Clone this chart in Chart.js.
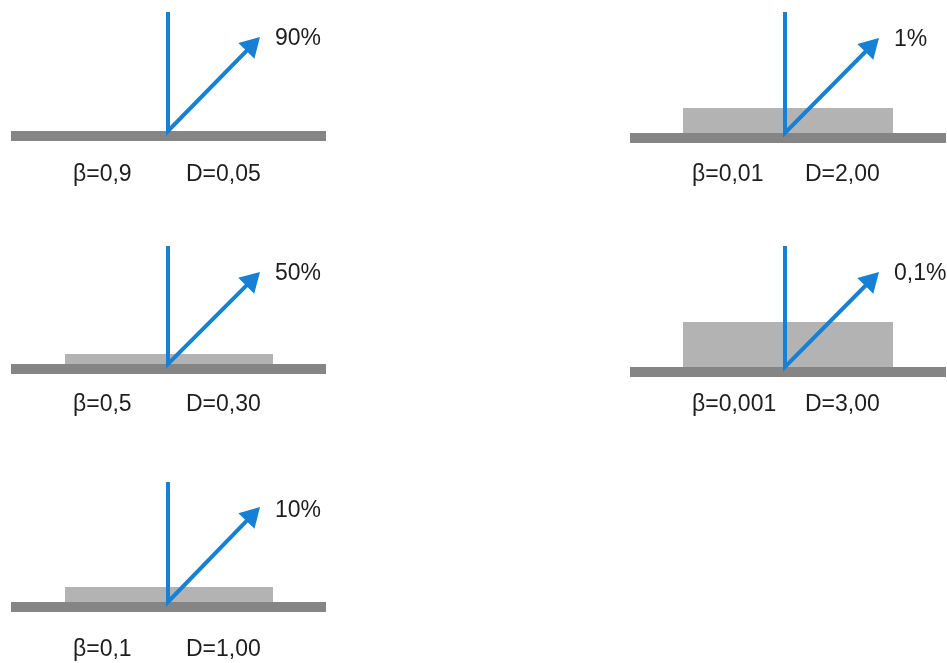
<!DOCTYPE html>
<html>
<head>
<meta charset="utf-8">
<script src="https://cdn.jsdelivr.net/npm/chart.js@4/dist/chart.umd.min.js"></script>
<style>
  html, body { margin: 0; padding: 0; background: #ffffff; }
  canvas { display: block; }
</style>
</head>
<body>
<canvas id="c" width="947" height="663"></canvas>
<script>
// ---------- DATA ----------
const transmission   = [90, 50, 10, 1, 0.1];          // % of the arrow that passes
const betaValues     = [0.9, 0.5, 0.1, 0.01, 0.001];  // β
const dValues        = [0.05, 0.30, 1.00, 2.00, 3.00];// D
const layerThickness = [0, 10, 15, 25, 45];           // drawn thickness of the grey layer (y units)

// ---------- LAYOUT (positions only, in axis units = px) ----------
const columns = [
  { baseX0: 11,  baseX1: 326, stemX: 168, layerX0: 65,  layerX1: 273, tipX: 260, pctX: 275, betaX: 73,  dX: 186 },
  { baseX0: 630, baseX1: 946, stemX: 785, layerX0: 683, layerX1: 893, tipX: 879, pctX: 894, betaX: 692, dX: 805 }
];
const panels = [
  { col: 0, baseTop: 131, stemTop: 12,  tipY: 37,  pctY: 45,  labelY: 181 },
  { col: 0, baseTop: 364, stemTop: 246, tipY: 272, pctY: 280, labelY: 411 },
  { col: 0, baseTop: 602, stemTop: 482, tipY: 507, pctY: 517, labelY: 656 },
  { col: 1, baseTop: 133, stemTop: 12,  tipY: 38,  pctY: 46,  labelY: 181 },
  { col: 1, baseTop: 367, stemTop: 246, tipY: 272, pctY: 280, labelY: 411 }
];
const BASE_H = 10;
const HEAD_R = 13;

// ---------- STYLES ----------
const BLUE = '#1680d4';
const DARK_GREY = '#858585';
const LIGHT_GREY = '#b3b3b3';
const TEXT = '#1e1e1e';
const FONT = '23px "Liberation Sans", Arial, sans-serif';

const fmt = v => String(v).replace('.', ',');

const datasets = [];
const texts = [];
panels.forEach((p, i) => {
  const c = columns[p.col];
  // base substrate
  datasets.push({
    data: [{ x: c.baseX0, y: p.baseTop }, { x: c.baseX1, y: p.baseTop }],
    fill: { value: p.baseTop + BASE_H }, backgroundColor: DARK_GREY,
    borderWidth: 0, pointRadius: 0, order: 3
  });
  // grey layer
  if (layerThickness[i] > 0) {
    datasets.push({
      data: [{ x: c.layerX0, y: p.baseTop - layerThickness[i] }, { x: c.layerX1, y: p.baseTop - layerThickness[i] }],
      fill: { value: p.baseTop }, backgroundColor: LIGHT_GREY,
      borderWidth: 0, pointRadius: 0, order: 4
    });
  }
  // arrow geometry
  const dx = c.tipX - c.stemX, dy = p.tipY - p.baseTop;
  const ang = Math.atan2(dx, -dy);
  const cx = c.tipX - HEAD_R * Math.sin(ang);
  const cy = p.tipY + HEAD_R * Math.cos(ang);
  datasets.push({
    data: [{ x: c.stemX, y: p.stemTop }, { x: c.stemX, y: p.baseTop }, { x: cx, y: cy }],
    fill: false, borderColor: BLUE, borderWidth: 4, pointRadius: 0,
    borderJoinStyle: 'miter', borderCapStyle: 'butt', tension: 0, order: 1
  });
  datasets.push({
    data: [{ x: cx, y: cy }],
    showLine: false, fill: false, pointStyle: 'triangle', pointRadius: HEAD_R,
    pointRotation: ang * 180 / Math.PI, pointBackgroundColor: BLUE, pointBorderWidth: 0,
    pointBorderColor: BLUE, order: 0
  });
  texts.push({ x: c.pctX, y: p.pctY, t: fmt(transmission[i]) + '%' });
  texts.push({ x: c.betaX, y: p.labelY, t: 'β=' + fmt(betaValues[i]) });
  texts.push({ x: c.dX, y: p.labelY, t: 'D=' + dValues[i].toFixed(2).replace('.', ',') });
});

const textPlugin = {
  id: 'labels',
  afterDatasetsDraw(chart) {
    const { ctx, scales: { x, y } } = chart;
    ctx.save();
    ctx.font = FONT;
    ctx.fillStyle = TEXT;
    ctx.textAlign = 'left';
    ctx.textBaseline = 'alphabetic';
    texts.forEach(o => ctx.fillText(o.t, x.getPixelForValue(o.x), y.getPixelForValue(o.y)));
    ctx.restore();
  }
};

new Chart(document.getElementById('c'), {
  type: 'line',
  data: { datasets },
  options: {
    responsive: false,
    animation: false,
    devicePixelRatio: 1,
    events: [],
    layout: { padding: 0, autoPadding: false },
    plugins: { legend: { display: false }, tooltip: { enabled: false } },
    scales: {
      x: { type: 'linear', min: 0, max: 947, display: false },
      y: { type: 'linear', min: 0, max: 663, reverse: true, display: false }
    }
  },
  plugins: [textPlugin]
});
</script>
</body>
</html>
